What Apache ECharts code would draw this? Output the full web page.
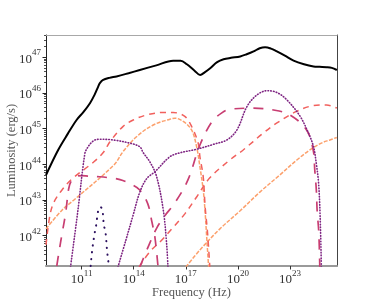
<!DOCTYPE html>
<html><head><meta charset="utf-8">
<script src="https://cdn.jsdelivr.net/npm/echarts@6/dist/echarts.min.js"></script>
<style>html,body{margin:0;padding:0;background:#fff}#c{width:374px;height:299px}</style>
</head><body><div id="c"></div>
<script>
// All values are log10: frequency (Hz) and luminosity (erg/s)
const xTickExponents = [11, 14, 17, 20, 23];
const yTickExponents = [42, 43, 44, 45, 46, 47];

const totalNu = [8.95, 9.65, 10.2, 10.71, 11.1, 11.48, 11.75, 11.96, 12.05, 12.24, 12.6, 13.01, 13.7, 14.35, 15.3, 16.27, 16.7, 17.06, 17.5, 17.82, 18.1, 18.4, 18.8, 19.17, 19.6, 20.13, 20.5, 20.9, 21.25, 21.56, 21.9, 22.24, 22.7, 23.2, 23.8, 24.35, 24.7, 25.1, 25.4, 25.69];
const totalL  = [43.70, 44.40, 44.85, 45.24, 45.46, 45.71, 45.95, 46.18, 46.27, 46.36, 46.42, 46.46, 46.55, 46.64, 46.77, 46.90, 46.90, 46.80, 46.62, 46.50, 46.58, 46.69, 46.86, 46.94, 46.98, 47.02, 47.08, 47.16, 47.25, 47.28, 47.24, 47.16, 47.04, 46.90, 46.80, 46.74, 46.73, 46.72, 46.70, 46.64];

const darkNu = [11.52, 11.61, 11.75, 11.84, 11.90, 11.99, 12.09, 12.19, 12.24, 12.28, 12.38, 12.47, 12.53, 12.56];
const darkL  = [41.15, 41.60, 42.07, 42.30, 42.53, 42.77, 42.80, 42.72, 42.53, 42.30, 42.07, 41.55, 41.32, 41.12];

const magentaLowNu = [10.36, 10.79, 11.19, 11.36, 11.55, 11.77, 12.05, 12.82, 13.78, 14.35, 14.54, 14.95, 15.32, 15.70, 15.89, 15.97];
const magentaLowL  = [41.12, 42.72, 44.31, 44.48, 44.60, 44.68, 44.70, 44.68, 44.59, 44.49, 44.33, 44.05, 43.65, 42.72, 41.79, 41.12];

const magentaHighNu = [13.09, 13.55, 13.95, 14.35, 14.75, 15.22, 16.08, 16.66, 17.62, 18.67, 19.36, 19.94, 20.52, 21.09, 21.67, 22.24, 22.82, 23.58, 24.06, 24.35, 24.50, 24.64, 24.73, 24.80];
const magentaHighL  = [41.12, 41.88, 42.55, 43.22, 43.60, 43.79, 44.21, 44.32, 44.42, 44.57, 44.68, 44.96, 45.62, 45.94, 46.06, 46.01, 45.80, 45.34, 44.87, 44.49, 44.05, 43.47, 42.53, 41.12];

const crimsonLowNu = [9.57, 9.69, 9.88, 10.08, 10.25, 10.38, 10.67, 11.0, 11.36, 12.05, 12.6, 13.21, 13.78, 14.35, 14.81, 15.04, 15.22, 15.40];
const crimsonLowL  = [41.15, 41.52, 42.07, 42.63, 43.30, 43.51, 43.65, 43.68, 43.67, 43.65, 43.62, 43.57, 43.46, 43.28, 42.89, 42.40, 41.95, 41.12];

const crimsonHighNu = [14.35, 14.93, 15.33, 15.79, 16.37, 17.12, 17.81, 18.50, 19.07, 19.53, 20.9, 22.05, 23.0, 23.95, 24.33, 24.42, 24.51, 24.56, 24.65, 24.71];
const crimsonHighL  = [41.12, 41.80, 42.22, 42.56, 42.92, 43.56, 44.54, 45.19, 45.44, 45.54, 45.57, 45.52, 45.38, 44.96, 44.40, 43.84, 43.28, 42.67, 42.11, 41.12];

const coralLowNu = [8.95, 9.18, 9.41, 9.87, 10.45, 11.71, 12.28, 12.63, 13.39, 13.97, 14.74, 15.70, 16.27, 16.94, 17.33, 17.71, 17.81, 18.0, 18.11, 18.25, 18.38];
const coralLowL  = [41.74, 42.58, 42.94, 43.28, 43.59, 44.07, 44.35, 44.63, 45.06, 45.24, 45.38, 45.45, 45.45, 45.34, 45.06, 44.59, 44.21, 43.65, 42.81, 42.07, 41.12];

const coralHighNu = [14.30, 14.93, 15.62, 16.25, 16.94, 17.63, 18.38, 19.53, 20.30, 21.45, 22.22, 23.37, 24.33, 25.10, 25.69];
const coralHighL  = [41.12, 41.55, 41.88, 42.22, 42.61, 43.09, 43.62, 44.12, 44.40, 44.87, 45.15, 45.48, 45.64, 45.66, 45.57];

const orangeLowNu = [8.95, 9.88, 10.56, 12.86, 13.38, 14.16, 15.12, 16.08, 16.37, 16.85, 17.33, 17.62, 17.81, 18.0, 18.1, 18.21, 18.31];
const orangeLowL  = [42.19, 42.72, 43.00, 43.98, 44.35, 44.77, 45.10, 45.26, 45.29, 45.20, 44.96, 44.49, 43.93, 43.28, 42.72, 41.88, 41.12];

const orangeHighNu = [17.0, 17.81, 18.96, 20.11, 21.26, 22.41, 23.39, 24.14, 24.83, 25.29, 25.69];
const orangeHighL  = [41.12, 41.60, 42.19, 42.69, 43.22, 43.70, 44.12, 44.40, 44.60, 44.68, 44.75];

const xMin = 8.95, xMax = 25.7, yMin = 41.15, yMax = 47.62;

function pairs(a, b) { return a.map((v, i) => [v, b[i]]); }
const minorY = [];
for (let n = 41; n <= 47; n++) for (let k = 2; k <= 9; k++) {
  const v = n + Math.log10(k);
  if (v > yMin && v < yMax) minorY.push(v);
}

const FONT = 'Liberation Serif';
const rich = {
  b: { fontFamily: FONT, fontSize: 13, color: '#333', lineHeight: 17, verticalAlign: 'bottom' },
  s: { fontFamily: FONT, fontSize: 9, color: '#333', lineHeight: 10, verticalAlign: 'top' }
};
const fmt = v => '{b|10}{s|' + Math.round(v) + '}';

function line(name, nu, L, color, type, width) {
  return {
    name, type: 'line', data: pairs(nu, L), showSymbol: false, symbol: 'none',
    smooth: 0.35, clip: true, silent: true,
    lineStyle: { color, width, type, cap: Array.isArray(type) && type[0] < 1 ? 'round' : 'butt' }
  };
}

const chart = echarts.init(document.getElementById('c'), null, { renderer: 'canvas' });
chart.setOption({
  animation: false,
  backgroundColor: '#fff',
  grid: { left: 46, right: 37, top: 35, bottom: 33, containLabel: false, outerBoundsMode: 'none' },
  xAxis: [{
    type: 'value', min: xMin, max: xMax, position: 'bottom',
    name: 'Frequency (Hz)', nameLocation: 'middle', nameGap: 20, nameMoveOverlap: false,
    nameTextStyle: { fontFamily: FONT, fontSize: 12.5, color: '#555' },
    axisLine: { show: true, lineStyle: { color: '#9a9a9a', width: 2 } },
    axisTick: { show: true, customValues: xTickExponents, length: 3.5, lineStyle: { color: '#333', width: 1 } },
    axisLabel: { customValues: xTickExponents, formatter: fmt, rich, margin: 3 },
    splitLine: { show: false }
  }, {
    type: 'value', min: xMin, max: xMax, position: 'top',
    axisLine: { show: true, lineStyle: { color: '#a8a8a8', width: 1.2 } },
    axisTick: { show: false }, axisLabel: { show: false }, splitLine: { show: false }
  }],
  yAxis: [{
    type: 'value', min: yMin, max: yMax, position: 'left',
    name: 'Luminosity (erg/s)', nameLocation: 'middle', nameGap: 28, nameMoveOverlap: false,
    nameTextStyle: { fontFamily: FONT, fontSize: 12.5, color: '#555' },
    axisLine: { show: true, lineStyle: { color: '#222', width: 1 } },
    axisTick: { show: true, customValues: yTickExponents, length: 3.5, lineStyle: { color: '#222', width: 1 } },
    axisLabel: { customValues: yTickExponents, formatter: fmt, rich, margin: 5 },
    splitLine: { show: false }
  }, {
    type: 'value', min: yMin, max: yMax, position: 'left',
    axisLine: { show: false },
    axisTick: { show: true, customValues: minorY, length: 2, lineStyle: { color: '#222', width: 0.8 } },
    axisLabel: { show: false }, splitLine: { show: false }
  }, {
    type: 'value', min: yMin, max: yMax, position: 'right',
    axisLine: { show: true, lineStyle: { color: '#444', width: 1 } },
    axisTick: { show: false }, axisLabel: { show: false }, splitLine: { show: false }
  }],
  series: [
    line('orange-low', orangeLowNu, orangeLowL, '#fca06c', [4, 1.5], 1.5),
    line('orange-high', orangeHighNu, orangeHighL, '#fca06c', [4, 1.5], 1.5),
    line('coral-low', coralLowNu, coralLowL, '#f1605d', [6, 5], 1.5),
    line('coral-high', coralHighNu, coralHighL, '#f1605d', [6, 5], 1.5),
    line('crimson-low', crimsonLowNu, crimsonLowL, '#c83e72', [10, 9], 1.7),
    line('crimson-high', crimsonHighNu, crimsonHighL, '#c83e72', [10, 9], 1.7),
    line('magenta-low', magentaLowNu, magentaLowL, '#7e2482', [0.6, 2.2], 1.6),
    line('magenta-high', magentaHighNu, magentaHighL, '#7e2482', [0.6, 2.2], 1.6),
    line('dark', darkNu, darkL, '#2c115f', [0.3, 6.5], 2),
    line('total', totalNu, totalL, '#000', 'solid', 2)
  ]
});
</script></body></html>
